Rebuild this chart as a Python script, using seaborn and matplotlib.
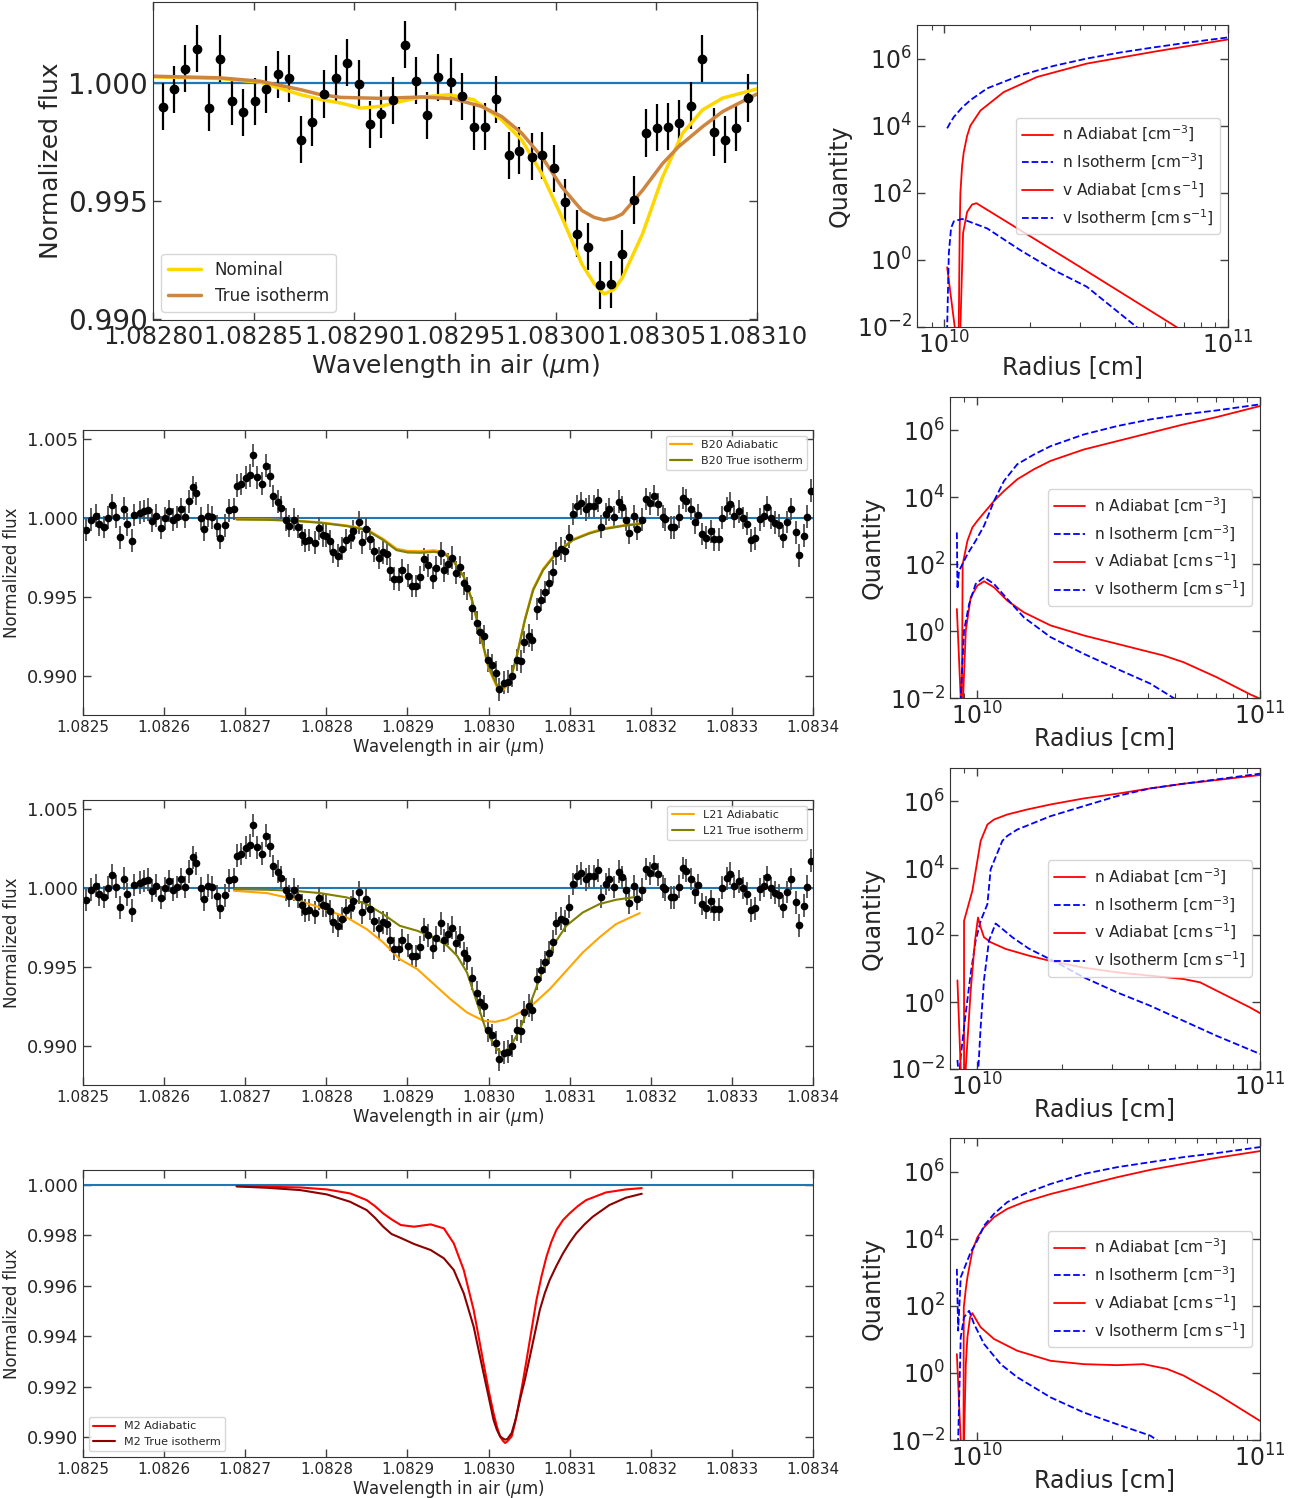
import numpy as np
import pandas as pd
import matplotlib
matplotlib.use("Agg")
import matplotlib.pyplot as plt
import seaborn as sns
from matplotlib.ticker import FixedLocator, FormatStrFormatter, NullLocator

sns.set_style("ticks")
plt.rcParams['font.family'] = ['DejaVu Sans']
plt.rcParams['mathtext.fontset'] = 'dejavusans'

# ---------------- Row 1 (left): observed points and models ----------------
wl1 = [1.0828048, 1.0828104, 1.0828158, 1.0828220, 1.0828276, 1.0828334, 1.0828391, 1.0828449,
       1.0828505, 1.0828563, 1.0828621, 1.0828677, 1.0828735, 1.0828789, 1.0828849, 1.0828907,
       1.0828965, 1.0829023, 1.0829079, 1.0829134, 1.0829192, 1.0829250, 1.0829306, 1.0829360,
       1.0829418, 1.0829480, 1.0829536, 1.0829594, 1.0829648, 1.0829706, 1.0829766, 1.0829818,
       1.0829881, 1.0829933, 1.0829991, 1.0830047, 1.0830105, 1.0830163, 1.0830221, 1.0830273,
       1.0830331, 1.0830389, 1.0830449, 1.0830505, 1.0830557, 1.0830614, 1.0830670, 1.0830728,
       1.0830784, 1.0830842, 1.0830898, 1.0830956]
flux1 = [0.99899, 0.99973, 1.00061, 1.00145, 0.99895, 1.00103, 0.99922, 0.99876, 0.99922, 0.99973,
         1.00037, 1.00019, 0.99759, 0.99833, 0.99953, 1.00019, 1.00085, 0.99996, 0.99825, 0.99868,
         0.99927, 1.00162, 1.00010, 0.99862, 1.00024, 1.00006, 0.99944, 0.99815, 0.99815, 0.99930,
         0.99694, 0.99712, 0.99687, 0.99694, 0.99638, 0.99494, 0.99360, 0.99305, 0.99142, 0.99147,
         0.99276, 0.99504, 0.99788, 0.99811, 0.99815, 0.99829, 0.99903, 1.00103, 0.99792, 0.99759,
         0.99811, 0.99936]
err1 = 0.0010

nom_wl = [1.0828000, 1.0828334, 1.0828533, 1.0828733, 1.0828833, 1.0828933, 1.0829033, 1.0829132,
          1.0829232, 1.0829332, 1.0829472, 1.0829592, 1.0829732, 1.0829832, 1.0829931, 1.0830031,
          1.0830131, 1.0830191, 1.0830241, 1.0830291, 1.0830331, 1.0830431, 1.0830531, 1.0830630,
          1.0830730, 1.0830830, 1.0831000]
nom_flux = [1.000256, 1.000185, 1.000028, 0.999501, 0.999300, 0.999145, 0.998932, 0.999010,
            0.999217, 0.999402, 0.999501, 0.999288, 0.998433, 0.997578, 0.996154, 0.994302,
            0.992308, 0.991500, 0.991054, 0.991250, 0.991738, 0.993590, 0.996011, 0.997863,
            0.998860, 0.999359, 0.999744]
iso_wl = [1.0828000, 1.0828334, 1.0828533, 1.0828733, 1.0828833, 1.0828933, 1.0829133, 1.0829332,
          1.0829492, 1.0829632, 1.0829732, 1.0829832, 1.0829931, 1.0830031, 1.0830131, 1.0830191,
          1.0830241, 1.0830291, 1.0830331, 1.0830431, 1.0830531, 1.0830610, 1.0830730, 1.0830830,
          1.0831000]
iso_flux = [1.000285, 1.000214, 1.000071, 0.999715, 0.999501, 0.999387, 0.999345, 0.999402,
            0.999330, 0.999003, 0.998576, 0.997863, 0.996866, 0.995584, 0.994587, 0.994300,
            0.994188, 0.994280, 0.994444, 0.995442, 0.996581, 0.997293, 0.998148, 0.998789,
            0.999530]

# ---------------- Rows 2-3 (left): observed spectrum ----------------
wl_obs = [1.0825041, 1.0825102, 1.0825160, 1.0825200, 1.0825258, 1.0825303, 1.0825360, 1.0825405,
          1.0825458, 1.0825503, 1.0825544, 1.0825601, 1.0825634, 1.0825703, 1.0825748, 1.0825802,
          1.0825851, 1.0825904, 1.0825961, 1.0826006, 1.0826063, 1.0826108, 1.0826153, 1.0826211,
          1.0826252, 1.0826309, 1.0826350, 1.0826399, 1.0826452, 1.0826493, 1.0826538, 1.0826595,
          1.0826656, 1.0826693, 1.0826751, 1.0826800, 1.0826857, 1.0826898, 1.0826943, 1.0827004,
          1.0827061, 1.0827102, 1.0827147, 1.0827205, 1.0827250, 1.0827303, 1.0827348, 1.0827401,
          1.0827446, 1.0827503, 1.0827544, 1.0827601, 1.0827646, 1.0827703, 1.0827732, 1.0827789,
          1.0827859, 1.0827904, 1.0827953, 1.0827998, 1.0828047, 1.0828088, 1.0828145, 1.0828190,
          1.0828247, 1.0828305, 1.0828333, 1.0828403, 1.0828436, 1.0828493, 1.0828534, 1.0828591,
          1.0828648, 1.0828693, 1.0828751, 1.0828791, 1.0828836, 1.0828894, 1.0828935, 1.0829008,
          1.0829053, 1.0829106, 1.0829151, 1.0829208, 1.0829253, 1.0829310, 1.0829351, 1.0829408,
          1.0829449, 1.0829494, 1.0829551, 1.0829596, 1.0829653, 1.0829694, 1.0829738, 1.0829792,
          1.0829853, 1.0829894, 1.0829938, 1.0829987, 1.0830044, 1.0830093, 1.0830134, 1.0830191,
          1.0830244, 1.0830293, 1.0830346, 1.0830404, 1.0830440, 1.0830493, 1.0830538, 1.0830595,
          1.0830652, 1.0830697, 1.0830748, 1.0830799, 1.0830836, 1.0830897, 1.0830942, 1.0830991,
          1.0831044, 1.0831093, 1.0831142, 1.0831199, 1.0831244, 1.0831297, 1.0831346, 1.0831391,
          1.0831444, 1.0831489, 1.0831550, 1.0831607, 1.0831648, 1.0831693, 1.0831734, 1.0831795,
          1.0831836, 1.0831889, 1.0831946, 1.0831991, 1.0832040, 1.0832093, 1.0832146, 1.0832178,
          1.0832248, 1.0832288, 1.0832354, 1.0832395, 1.0832435, 1.0832497, 1.0832541, 1.0832582,
          1.0832635, 1.0832680, 1.0832737, 1.0832778, 1.0832839, 1.0832884, 1.0832937, 1.0832982,
          1.0833027, 1.0833084, 1.0833137, 1.0833182, 1.0833235, 1.0833288, 1.0833341, 1.0833390,
          1.0833431, 1.0833488, 1.0833529, 1.0833582, 1.0833631, 1.0833684, 1.0833733, 1.0833786,
          1.0833827, 1.0833884, 1.0833929, 1.0833978]
flux_obs = [0.999240, 0.999895, 1.000148, 0.999599, 0.999430, 1.000021, 1.000802, 1.000084,
            0.998776, 1.000591, 0.999599, 0.998565, 1.000190, 1.000338, 1.000443, 1.000527,
            0.999831, 1.000148, 0.999388, 0.999979, 1.000443, 0.999895, 1.000063, 1.000570,
            1.000063, 1.001055, 1.001941, 1.001561, 0.999979, 0.999283, 1.000148, 1.000042,
            0.999494, 0.998734, 0.999536, 1.000485, 1.000570, 1.002046, 1.002152, 1.002553,
            1.002700, 1.003987, 1.002574, 1.002173, 1.003312, 1.002679, 1.001392, 1.001034,
            1.000654, 0.999895, 0.999494, 0.999895, 0.999451, 0.998924, 0.998565, 0.998608,
            0.998439, 0.999346, 0.998903, 0.998882, 0.998544, 0.997848, 0.997616, 0.998059,
            0.998608, 0.998776, 0.999177, 0.999726, 0.998460, 0.999304, 0.998671, 0.997933,
            0.997468, 0.997827, 0.997743, 0.996730, 0.996160, 0.996118, 0.996688, 0.996350,
            0.995696, 0.995696, 0.996245, 0.997384, 0.997004, 0.996203, 0.996857, 0.997764,
            0.996688, 0.997089, 0.997489, 0.996540, 0.996899, 0.995865, 0.995548, 0.994283,
            0.993376, 0.992764, 0.992532, 0.990992, 0.990696, 0.990211, 0.989156, 0.989578,
            0.989641, 0.990000, 0.991013, 0.990928, 0.992152, 0.992553, 0.992279, 0.994240,
            0.994810, 0.995316, 0.995900, 0.996603, 0.997764, 0.998059, 0.997911, 0.998819,
            1.000253, 1.000759, 1.000928, 1.000549, 1.000759, 1.000759, 1.001118, 0.999451,
            1.000253, 1.000549, 1.000063, 1.001034, 1.000675, 0.999895, 0.999072, 1.000105,
            0.999325, 0.999895, 1.001203, 1.000928, 1.001392, 1.000865, 1.000084, 0.999916,
            0.999409, 0.999409, 1.000084, 1.001266, 1.001097, 1.000570, 0.999726, 1.000190,
            0.998987, 0.998755, 0.999156, 0.998650, 0.998650, 1.000021, 1.000612, 1.000907,
            1.000105, 1.000422, 1.000000, 0.999641, 0.998586, 0.998713, 0.999916, 1.000127,
            1.000675, 1.000000, 0.999705, 0.999536, 0.998819, 0.999747, 1.000570, 0.999093,
            0.997637, 0.998882, 1.000084, 1.001730]
err_obs = 0.00072

# B20 models
b20_wl = [1.0826894, 1.0827270, 1.0827597, 1.0827924, 1.0828252, 1.0828497, 1.0828701, 1.0828865,
          1.0829000, 1.0829163, 1.0829326, 1.0829449, 1.0829571, 1.0829694, 1.0829796, 1.0829898,
          1.0830000, 1.0830102, 1.0830183, 1.0830265, 1.0830346, 1.0830448, 1.0830550, 1.0830673,
          1.0830836, 1.0831040, 1.0831244, 1.0831448, 1.0831693, 1.0831889]
b20_adi = [0.999930, 0.999910, 0.999850, 0.999730, 0.999530, 0.999290, 0.998680, 0.998060,
           0.997920, 0.997900, 0.997960, 0.997850, 0.997300, 0.996300, 0.994780, 0.992620,
           0.990480, 0.989300, 0.989120, 0.989650, 0.991200, 0.993600, 0.995520, 0.996790,
           0.997830, 0.998660, 0.999080, 0.999370, 0.999570, 0.999680]
b20_iso = [0.999916, 0.999895, 0.999831, 0.999705, 0.999494, 0.999240, 0.998608, 0.997975,
           0.997827, 0.997806, 0.997869, 0.997764, 0.997236, 0.996287, 0.994810, 0.992700,
           0.990591, 0.989430, 0.989261, 0.989747, 0.991224, 0.993544, 0.995443, 0.996709,
           0.997764, 0.998608, 0.999030, 0.999325, 0.999536, 0.999641]

# L21 models
l21_iso_wl = [1.0826861, 1.0827270, 1.0827597, 1.0827924, 1.0828252, 1.0828497, 1.0828701, 1.0828906,
              1.0829122, 1.0829326, 1.0829490, 1.0829612, 1.0829734, 1.0829857, 1.0829979, 1.0830102,
              1.0830163, 1.0830265, 1.0830387, 1.0830550, 1.0830673, 1.0830795, 1.0830958, 1.0831162,
              1.0831366, 1.0831570, 1.0831856]
l21_iso = [0.999937, 0.999894, 0.999831, 0.999683, 0.999409, 0.998986, 0.998352, 0.997613,
           0.997296, 0.996874, 0.996346, 0.995712, 0.994656, 0.992754, 0.990853, 0.989797,
           0.989586, 0.989903, 0.991065, 0.993177, 0.994867, 0.996346, 0.997613, 0.998458,
           0.998986, 0.999261, 0.999472]
l21_adi_wl = [1.0826861, 1.0827270, 1.0827597, 1.0827924, 1.0828252, 1.0828497, 1.0828701, 1.0828906,
              1.0829122, 1.0829326, 1.0829530, 1.0829734, 1.0829938, 1.0830081, 1.0830224, 1.0830387,
              1.0830550, 1.0830754, 1.0830958, 1.0831162, 1.0831366, 1.0831570, 1.0831864]
l21_adi = [0.999831, 0.999683, 0.999303, 0.998775, 0.998141, 0.997402, 0.996557, 0.995501,
           0.994867, 0.993916, 0.992966, 0.992121, 0.991593, 0.991529, 0.991698, 0.992121,
           0.992649, 0.993599, 0.994761, 0.995923, 0.996874, 0.997719, 0.998416]

# M2 models
m2_adi_wl = [1.0826894, 1.0827270, 1.0827679, 1.0828006, 1.0828292, 1.0828497, 1.0828599, 1.0828701,
             1.0828804, 1.0828918, 1.0829082, 1.0829286, 1.0829449, 1.0829571, 1.0829694, 1.0829816,
             1.0829938, 1.0830000, 1.0830061, 1.0830102, 1.0830142, 1.0830175, 1.0830204, 1.0830232,
             1.0830285, 1.0830326, 1.0830367, 1.0830420, 1.0830469, 1.0830530, 1.0830591, 1.0830652,
             1.0830714, 1.0830775, 1.0830836, 1.0830918, 1.0830999, 1.0831101, 1.0831203, 1.0831448,
             1.0831693, 1.0831889]
m2_adi = [0.999960, 0.999934, 0.999907, 0.999828, 0.999670, 0.999405, 0.999167, 0.998876,
          0.998639, 0.998414, 0.998348, 0.998440, 0.998282, 0.997687, 0.996629, 0.995043,
          0.992928, 0.991871, 0.990946, 0.990417, 0.990020, 0.989849, 0.989756, 0.989822,
          0.990020, 0.990549, 0.991210, 0.992135, 0.993061, 0.994250, 0.995440, 0.996365,
          0.997158, 0.997753, 0.998216, 0.998612, 0.998876, 0.999167, 0.999405, 0.999709,
          0.999828, 0.999881]
m2_iso_wl = [1.0826894, 1.0827270, 1.0827679, 1.0828006, 1.0828292, 1.0828497, 1.0828599, 1.0828701,
             1.0828804, 1.0828918, 1.0829082, 1.0829286, 1.0829449, 1.0829571, 1.0829694, 1.0829816,
             1.0829938, 1.0830000, 1.0830061, 1.0830102, 1.0830142, 1.0830175, 1.0830204, 1.0830232,
             1.0830285, 1.0830338, 1.0830387, 1.0830448, 1.0830510, 1.0830571, 1.0830632, 1.0830693,
             1.0830754, 1.0830836, 1.0830918, 1.0830999, 1.0831081, 1.0831183, 1.0831285, 1.0831489,
             1.0831693, 1.0831889]
m2_iso = [0.999947, 0.999894, 0.999802, 0.999630, 0.999339, 0.999009, 0.998705, 0.998348,
          0.998057, 0.997900, 0.997660, 0.997422, 0.997092, 0.996629, 0.995704, 0.994382,
          0.992532, 0.991607, 0.990681, 0.990285, 0.990020, 0.989941, 0.989888, 0.989915,
          0.990153, 0.990747, 0.991474, 0.992267, 0.993193, 0.994118, 0.995043, 0.995704,
          0.996233, 0.996788, 0.997290, 0.997713, 0.998083, 0.998440, 0.998744, 0.999207,
          0.999498, 0.999656]

# ---------------- Right panels: radial profiles (radius in cm, log10 quantity) ----------------
# Panel 1
p1_nA_r = [1.120e10, 1.132e10, 1.138e10, 1.154e10, 1.169e10, 1.202e10, 1.234e10, 1.339e10, 1.617e10,
           2.118e10, 3.176e10, 5.447e10, 1.0e11]
p1_nA_q = [-3.0, 1.0, 2.0, 2.8, 3.2, 3.7, 4.0, 4.45, 5.0, 5.45, 5.85, 6.2, 6.57]
p1_nI_r = [1.022e10, 1.050e10, 1.079e10, 1.154e10, 1.234e10, 1.413e10, 1.851e10, 2.424e10, 3.176e10,
           4.159e10, 5.447e10, 7.136e10, 1.0e11]
p1_nI_q = [3.92, 4.10, 4.26, 4.54, 4.76, 5.11, 5.50, 5.78, 6.0, 6.18, 6.33, 6.47, 6.63]
p1_vA_r = [1.022e10, 1.087e10, 1.095e10, 1.128e10, 1.138e10, 1.163e10, 1.202e10, 1.251e10, 1.296e10,
           2.928e10, 6.58e10, 7.5e10]
p1_vA_q = [-0.22, -2.0, -3.0, -3.0, -2.0, 0.8, 1.43, 1.65, 1.69, -0.15, -2.0, -2.5]
p1_vI_r = [1.020e10, 1.022e10, 1.036e10, 1.055e10, 1.079e10, 1.154e10, 1.413e10, 1.851e10, 2.424e10,
           3.176e10, 4.760e10, 5.2e10]
p1_vI_q = [-3.0, -2.0, 0.2, 0.95, 1.15, 1.22, 0.94, 0.29, -0.30, -0.80, -2.0, -2.3]

# Panel 2
p2_nA_r = [8.80e9, 8.87e9, 8.97e9, 9.22e9, 9.60e9, 1.0e10, 1.056e10, 1.145e10, 1.242e10, 1.384e10,
           1.585e10, 1.815e10, 2.379e10, 3.12e10, 4.09e10, 5.363e10, 7.03e10, 1.0e11]
p2_nA_q = [-3.0, 2.0, 2.2, 2.7, 3.10, 3.30, 3.54, 3.89, 4.19, 4.54, 4.84, 5.09, 5.43, 5.68, 5.93,
           6.18, 6.40, 6.73]
p2_nI_r = [8.46e9, 8.50e9, 8.61e9, 8.85e9, 9.22e9, 9.86e9, 1.056e10, 1.145e10, 1.242e10, 1.384e10,
           1.585e10, 1.815e10, 2.379e10, 3.12e10, 4.09e10, 5.363e10, 7.03e10, 1.0e11]
p2_nI_q = [2.95, 1.26, 1.8, 2.0, 2.30, 2.70, 3.15, 3.89, 4.49, 4.99, 5.28, 5.53, 5.88, 6.13, 6.33,
           6.48, 6.60, 6.78]
p2_vA_r = [8.46e9, 8.73e9, 8.78e9, 8.87e9, 8.90e9, 9.10e9, 9.47e9, 1.0e10, 1.056e10, 1.145e10,
           1.276e10, 1.461e10, 1.815e10, 2.379e10, 3.12e10, 4.09e10, 4.559e10, 5.363e10, 7.03e10,
           9.22e10, 1.0e11]
p2_vA_q = [0.66, -2.0, -3.0, -3.0, -2.0, 0.02, 1.01, 1.36, 1.49, 1.31, 0.91, 0.56, 0.17, -0.13,
           -0.38, -0.63, -0.73, -0.93, -1.38, -1.89, -2.02]
p2_vI_r = [8.68e9, 8.73e9, 8.97e9, 9.35e9, 9.86e9, 1.056e10, 1.145e10, 1.276e10, 1.461e10, 1.815e10,
           2.379e10, 3.12e10, 4.09e10, 4.945e10, 5.363e10]
p2_vI_q = [-3.0, -2.0, 0.02, 0.81, 1.41, 1.61, 1.41, 0.96, 0.41, -0.18, -0.68, -1.13, -1.57, -2.0, -2.2]

# Panel 3
p3_nA_r = [8.97e9, 8.97e9, 9.60e9, 1.027e10, 1.085e10, 1.145e10, 1.276e10, 1.501e10, 1.815e10,
           2.379e10, 3.12e10, 4.09e10, 5.363e10, 7.03e10, 1.0e11]
p3_nA_q = [-3.0, 2.43, 3.33, 4.82, 5.31, 5.46, 5.61, 5.76, 5.91, 6.09, 6.23, 6.39, 6.53, 6.64, 6.79]
p3_nI_r = [8.50e9, 8.61e9, 8.73e9, 9.09e9, 9.47e9, 9.86e9, 1.027e10, 1.085e10, 1.114e10, 1.225e10,
           1.276e10, 1.384e10, 1.585e10, 1.815e10, 2.379e10, 3.12e10, 4.09e10, 5.363e10, 7.03e10, 1.0e11]
p3_nI_q = [-1.73, -2.3, -1.63, -0.34, 0.85, 1.84, 2.43, 2.93, 3.97, 4.82, 4.97, 5.16, 5.36, 5.56,
           5.86, 6.16, 6.39, 6.53, 6.66, 6.83]
p3_vA_r = [8.50e9, 8.73e9, 8.80e9, 9.00e9, 9.09e9, 9.47e9, 9.81e9, 1.005e10, 1.027e10, 1.055e10,
           1.114e10, 1.259e10, 1.52e10, 1.815e10, 2.379e10, 3.12e10, 4.09e10, 5.363e10, 6.14e10,
           7.03e10, 8.05e10, 9.22e10, 1.0e11]
p3_vA_q = [0.65, -2.0, -3.0, -3.0, -2.0, 0.35, 1.84, 2.53, 2.24, 1.94, 1.79, 1.59, 1.39, 1.23, 1.03,
           0.89, 0.79, 0.69, 0.59, 0.34, 0.09, -0.16, -0.33]
p3_vI_r = [1.0e10, 1.027e10, 1.055e10, 1.099e10, 1.16e10, 1.225e10, 1.329e10, 1.52e10, 1.91e10,
           2.379e10, 3.12e10, 4.09e10, 5.363e10, 7.03e10, 1.0e11]
p3_vI_q = [-2.5, -0.74, 0.65, 1.84, 2.35, 2.19, 1.94, 1.60, 1.18, 0.74, 0.29, -0.11, -0.56, -1.01, -1.55]

# Panel 4
p4_nA_r = [8.925e9, 8.95e9, 9.10e9, 9.22e9, 9.60e9, 1.0e10, 1.056e10, 1.145e10, 1.276e10, 1.461e10,
           1.815e10, 2.379e10, 3.12e10, 4.09e10, 5.363e10, 7.03e10, 1.0e11]
p4_nA_q = [-3.0, 1.95, 2.5, 2.85, 3.64, 4.04, 4.34, 4.64, 4.89, 5.09, 5.33, 5.58, 5.83, 6.05, 6.23,
           6.41, 6.61]
p4_nI_r = [8.46e9, 8.55e9, 8.73e9, 9.22e9, 9.47e9, 1.0e10, 1.056e10, 1.145e10, 1.276e10, 1.461e10,
           1.815e10, 2.379e10, 3.12e10, 4.09e10, 5.363e10, 7.03e10, 1.0e11]
p4_nI_q = [3.10, 1.26, 2.85, 3.35, 3.60, 3.95, 4.39, 4.74, 5.09, 5.33, 5.63, 5.93, 6.13, 6.28, 6.43,
           6.55, 6.73]
p4_vA_r = [8.46e9, 8.73e9, 8.80e9, 8.90e9, 8.97e9, 9.10e9, 9.22e9, 9.42e9, 9.60e9, 9.86e9, 1.027e10,
           1.145e10, 1.384e10, 1.815e10, 2.379e10, 3.12e10, 3.87e10, 4.68e10, 5.363e10, 7.03e10, 1.0e11]
p4_vA_q = [0.56, -2.0, -3.0, -3.0, -2.0, 0.26, 1.06, 1.66, 1.78, 1.61, 1.36, 1.01, 0.66, 0.36, 0.26,
           0.23, 0.26, 0.12, -0.08, -0.63, -1.43]
p4_vI_r = [8.50e9, 8.55e9, 8.73e9, 8.97e9, 9.35e9, 9.73e9, 1.056e10, 1.209e10, 1.384e10, 1.815e10,
           2.379e10, 3.12e10, 4.09e10, 4.31e10, 4.6e10]
p4_vI_q = [-3.0, -2.0, 1.06, 1.66, 1.85, 1.46, 0.86, 0.26, -0.13, -0.73, -1.18, -1.53, -1.87, -2.0, -2.2]

# ---------------- Figure ----------------
W, H = 1304, 1498
fig = plt.figure(figsize=(W / 100, H / 100), dpi=100)


def add_ax(x0, y0, x1, y1):
    return fig.add_axes([x0 / W, 1 - y1 / H, (x1 - x0) / W, (y1 - y0) / H])


def line(ax, x, y, **kw):
    df = pd.DataFrame({"x": x, "y": y})
    sns.lineplot(data=df, x="x", y="y", ax=ax, estimator=None, sort=False, **kw)


def base_ticks(ax):
    ax.tick_params(which='both', direction='in', top=True, right=True, color='0.25')
    ax.tick_params(which='major', length=6, width=1)
    ax.tick_params(which='minor', length=3.5, width=0.8)
    for s in ax.spines.values():
        s.set_color('0.2')


blue = '#1f77b4'

# Row 1 left
ax = add_ax(153, 2, 757, 320)
ax.axhline(1.0, color=blue, lw=1.6, zorder=1)
ax.errorbar(wl1, flux1, yerr=err1, fmt='o', color='black', ms=6, ecolor='black',
            elinewidth=1.6, capsize=0, zorder=2)
line(ax, nom_wl, nom_flux, color='#FFD700', lw=2.5, label='Nominal')
line(ax, iso_wl, iso_flux, color='#CD853F', lw=2.5, label='True isotherm')
ax.set_xlim(1.08280, 1.08310)
ax.set_ylim(0.98995, 1.00343)
ax.xaxis.set_major_locator(FixedLocator([1.08280, 1.08285, 1.08290, 1.08295, 1.08300, 1.08305, 1.08310]))
ax.xaxis.set_major_formatter(FormatStrFormatter('%.5f'))
ax.yaxis.set_major_locator(FixedLocator([0.990, 0.995, 1.000]))
ax.yaxis.set_major_formatter(FormatStrFormatter('%.3f'))
base_ticks(ax)
ax.tick_params(axis='y', labelsize=20)
ax.tick_params(axis='x', labelsize=17.5)
ax.set_xlabel(r'Wavelength in air ($\mu$m)', fontsize=18, labelpad=2)
ax.set_ylabel('Normalized flux', fontsize=18)
ax.legend(loc='lower left', fontsize=12)

# Rows 2-4 left
xt = [1.0825, 1.0826, 1.0827, 1.0828, 1.0829, 1.0830, 1.0831, 1.0832, 1.0833, 1.0834]


def setup_left(ax, ylim, yticks):
    ax.set_xlim(1.0825, 1.0834)
    ax.set_ylim(*ylim)
    ax.xaxis.set_major_locator(FixedLocator(xt))
    ax.xaxis.set_major_formatter(FormatStrFormatter('%.4f'))
    ax.yaxis.set_major_locator(FixedLocator(yticks))
    ax.yaxis.set_major_formatter(FormatStrFormatter('%.3f'))
    base_ticks(ax)
    ax.tick_params(axis='x', labelsize=11)
    ax.tick_params(axis='y', labelsize=13)
    ax.set_xlabel(r'Wavelength in air ($\mu$m)', fontsize=12, labelpad=1)
    ax.set_ylabel('Normalized flux', fontsize=12)


for (y0, y1, tag) in [(430, 715, 'B20'), (800, 1085, 'L21')]:
    ax = add_ax(83, y0, 813, y1)
    ax.axhline(1.0, color=blue, lw=1.5, zorder=1)
    ax.errorbar(wl_obs, flux_obs, yerr=err_obs, fmt='o', color='black', ms=4.5,
                ecolor='0.3', elinewidth=1.3, capsize=0, zorder=2)
    if tag == 'B20':
        line(ax, b20_wl, b20_adi, color='orange', lw=1.6, label='B20 Adiabatic')
        line(ax, b20_wl, b20_iso, color='olive', lw=1.6, label='B20 True isotherm')
    else:
        line(ax, l21_adi_wl, l21_adi, color='orange', lw=1.5, label='L21 Adiabatic')
        line(ax, l21_iso_wl, l21_iso, color='olive', lw=1.5, label='L21 True isotherm')
    setup_left(ax, (0.98753, 1.00558), [0.990, 0.995, 1.000, 1.005])
    ax.legend(loc='upper right', fontsize=8)

ax = add_ax(83, 1170, 813, 1457)
ax.axhline(1.0, color=blue, lw=1.5, zorder=1)
line(ax, m2_adi_wl, m2_adi, color='red', lw=1.5, label='M2 Adiabatic')
line(ax, m2_iso_wl, m2_iso, color='darkred', lw=1.5, label='M2 True isotherm')
setup_left(ax, (0.98920, 1.00060), [0.990, 0.992, 0.994, 0.996, 0.998, 1.000])
ax.legend(loc='lower left', fontsize=8)

# Right panels
lab_nA = r'n Adiabat [$\mathrm{cm^{-3}}$]'
lab_nI = r'n Isotherm [$\mathrm{cm^{-3}}$]'
lab_vA = r'v Adiabat [$\mathrm{cm\,s^{-1}}$]'
lab_vI = r'v Isotherm [$\mathrm{cm\,s^{-1}}$]'

right_boxes = [(917, 25, 1228, 327), (950, 397, 1260, 698), (950, 768, 1260, 1069), (950, 1138, 1260, 1440)]
profiles = [
    (p1_nA_r, p1_nA_q, p1_nI_r, p1_nI_q, p1_vA_r, p1_vA_q, p1_vI_r, p1_vI_q),
    (p2_nA_r, p2_nA_q, p2_nI_r, p2_nI_q, p2_vA_r, p2_vA_q, p2_vI_r, p2_vI_q),
    (p3_nA_r, p3_nA_q, p3_nI_r, p3_nI_q, p3_vA_r, p3_vA_q, p3_vI_r, p3_vI_q),
    (p4_nA_r, p4_nA_q, p4_nI_r, p4_nI_q, p4_vA_r, p4_vA_q, p4_vI_r, p4_vI_q),
]
for box, prof in zip(right_boxes, profiles):
    ax = add_ax(*box)
    ax.set_xscale('log')
    ax.set_yscale('log')
    nAr, nAq, nIr, nIq, vAr, vAq, vIr, vIq = prof
    line(ax, nAr, 10.0 ** np.array(nAq), color='red', lw=1.3, label=lab_nA)
    line(ax, nIr, 10.0 ** np.array(nIq), color='blue', lw=1.3, linestyle='--', label=lab_nI)
    line(ax, vAr, 10.0 ** np.array(vAq), color='red', lw=1.3, label=lab_vA)
    line(ax, vIr, 10.0 ** np.array(vIq), color='blue', lw=1.3, linestyle='--', label=lab_vI)
    ax.set_xlim(8e9, 1e11)
    ax.set_ylim(1e-2, 1e7)
    ax.yaxis.set_major_locator(FixedLocator([1e-2, 1e0, 1e2, 1e4, 1e6]))
    ax.yaxis.set_minor_locator(NullLocator())
    ax.xaxis.set_major_locator(FixedLocator([1e10, 1e11]))
    base_ticks(ax)
    ax.tick_params(labelsize=17)
    ax.set_xlabel('Radius [cm]', fontsize=17, labelpad=-3)
    ax.set_ylabel('Quantity', fontsize=17)
    ax.legend(loc='center right', fontsize=11.2, handletextpad=0.6)

fig.savefig('out.png', dpi=100)
